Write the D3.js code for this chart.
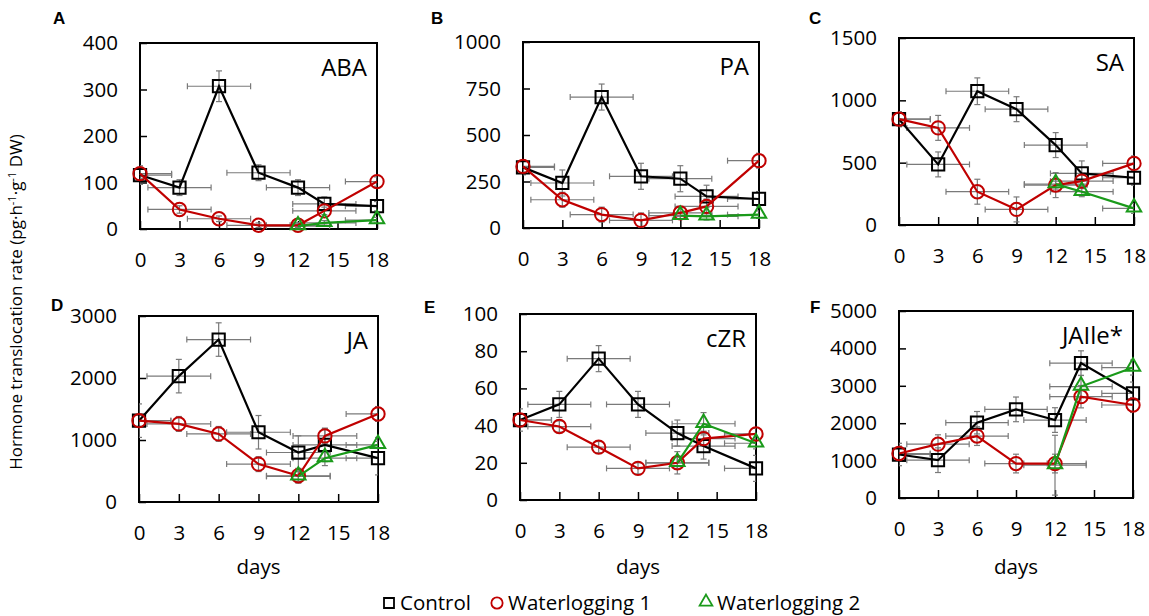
<!DOCTYPE html>
<html><head><meta charset="utf-8">
<script src="https://cdn.jsdelivr.net/npm/d3@7"></script>
<style>
html,body{margin:0;padding:0;background:#fff;}
svg{display:block;font-family:"Open Sans",Lato,sans-serif;}
</style></head>
<body><svg id="chart" width="1149" height="616"></svg>
<script>
// ---------- data ----------
const days = [0, 3, 6, 9, 12, 14, 18];
const daysWL2 = [12, 14, 18];
const xTicks = [0, 3, 6, 9, 12, 15, 18];
const seriesNames = ["Control", "Waterlogging 1", "Waterlogging 2"];
const panelLetters = ["A", "B", "C", "D", "E", "F"];
const hormones = ["ABA", "PA", "SA", "JA", "cZR", "JAIle*"];
const yMax = [400, 1000, 1500, 3000, 100, 5000];
const yTicks = [
  [0, 100, 200, 300, 400],
  [0, 250, 500, 750, 1000],
  [0, 500, 1000, 1500],
  [0, 1000, 2000, 3000],
  [0, 20, 40, 60, 80, 100],
  [0, 1000, 2000, 3000, 4000, 5000]
];
// mean values (Control, WL1 at all days; WL2 at days 12,14,18)
const controlVals = [
  [116, 89, 307, 121, 89, 54, 49],
  [326, 242, 704, 278, 265, 170, 156],
  [849, 486, 1073, 929, 641, 414, 379],
  [1312, 2030, 2620, 1125, 798, 921, 707],
  [43, 51.4, 76, 51.4, 36, 29, 17],
  [1163, 1011, 2013, 2370, 2084, 3605, 2800]
];
const wl1Vals = [
  [119, 42, 22, 8, 8, 39, 102],
  [331, 152, 72, 41, 81, 116, 362],
  [849, 779, 267, 125, 320, 352, 494],
  [1312, 1259, 1098, 611, 423, 1066, 1420],
  [43, 39.5, 28.4, 17, 20, 33, 35.5],
  [1190, 1440, 1655, 921, 921, 2710, 2487]
];
const wl2Vals = [
  [6, 13, 19],
  [66, 63, 72],
  [328, 267, 133],
  [412, 707, 921],
  [20, 41, 30.5],
  [877, 2979, 3488]
];
// vertical error (SE) values
const controlErr = [
  [20, 17, 33, 17, 17, 15, 10],
  [40, 70, 70, 70, 70, 60, 40],
  [60, 100, 107, 100, 100, 100, 60],
  [270, 270, 270, 270, 270, 270, 270],
  [6, 7, 7, 7, 7, 7, 7],
  [300, 330, 300, 330, 330, 330, 300]
];
const wl1Err = [
  [10, 8, 6, 5, 5, 8, 10],
  [30, 40, 40, 40, 30, 40, 40],
  [60, 100, 100, 100, 100, 60, 60],
  [100, 120, 120, 120, 120, 120, 120],
  [3, 3, 3, 3, 6, 4, 3],
  [200, 250, 250, 250, 250, 300, 200]
];
const wl2Err = [
  [4, 5, 6],
  [20, 20, 20],
  [40, 40, 40],
  [80, 120, 120],
  [3, 6, 3],
  [800, 300, 200]
];
// horizontal error (days)
const controlXErr = [2.4, 2.4, 2.4, 2.4, 2.4, 2.4, 2.4];
const wl1XErr = [2.4, 2.4, 2.4, 2.4, 2.4, 2.4, 2.4];
const wl2XErr = [2.4, 2.4, 2.4];

// ---------- layout ----------
const colors = ["#000000", "#c00000", "#1a9a1a"];
const boxes = [
  {l: 140, t: 43, r: 377, b: 229},
  {l: 523, t: 42, r: 759, b: 228},
  {l: 899, t: 38, r: 1134, b: 225},
  {l: 139, t: 316, r: 378, b: 502},
  {l: 520, t: 314, r: 756, b: 500},
  {l: 899, t: 311, r: 1133, b: 498}
];
const letterPos = [[53, 24], [431, 24], [809, 24], [51, 311], [424, 313], [810, 313]];

const svg = d3.select("#chart");
const fontSize = 20.5;
const fmt = d3.format("d");

const symSquare = d3.symbol().type(d3.symbolSquare).size(150);
const symCircle = d3.symbol().type(d3.symbolCircle).size(140);
const symTri = d3.symbol().type(d3.symbolTriangle).size(90);
const symbols = [symSquare, symCircle, symTri];

panelLetters.forEach((letter, i) => {
  const bx = boxes[i];
  const x = d3.scaleLinear().domain([0, 18]).range([bx.l, bx.r]);
  const y = d3.scaleLinear().domain([0, yMax[i]]).range([bx.b, bx.t]);
  const g = svg.append("g");

  const clipId = "clip" + i;
  svg.append("clipPath").attr("id", clipId).append("rect")
    .attr("x", bx.l).attr("y", bx.t).attr("width", bx.r - bx.l).attr("height", bx.b - bx.t);

  // y axis ticks inward
  const yAxis = d3.axisRight(y).tickValues(yTicks[i]).tickSize(7).tickFormat("");
  g.append("g").attr("transform", `translate(${bx.l},0)`).call(yAxis)
    .call(s => s.select(".domain").remove())
    .call(s => s.selectAll("line").attr("stroke", "#000").attr("stroke-width", 1.5));
  const yLab = d3.axisLeft(y).tickValues(yTicks[i]).tickSize(0).tickPadding(22).tickFormat(fmt);
  g.append("g").attr("transform", `translate(${bx.l},0)`).call(yLab)
    .call(s => s.select(".domain").remove())
    .call(s => s.selectAll("text").attr("font-size", fontSize).attr("font-family", "'Open Sans',sans-serif").attr("fill", "#000"));

  // x axis ticks inward
  const xAxis = d3.axisTop(x).tickValues(xTicks).tickSize(8).tickFormat("");
  g.append("g").attr("transform", `translate(0,${bx.b})`).call(xAxis)
    .call(s => s.select(".domain").remove())
    .call(s => s.selectAll("line").attr("stroke", "#000").attr("stroke-width", 1.5));
  const xLab = d3.axisBottom(x).tickValues(xTicks).tickSize(0).tickPadding(23).tickFormat(fmt);
  g.append("g").attr("transform", `translate(0,${bx.b})`).call(xLab)
    .call(s => s.select(".domain").remove())
    .call(s => s.selectAll("text").attr("font-size", fontSize).attr("font-family", "'Open Sans',sans-serif").attr("fill", "#000"));

  // box
  g.append("rect").attr("x", bx.l).attr("y", bx.t).attr("width", bx.r - bx.l).attr("height", bx.b - bx.t)
    .attr("fill", "none").attr("stroke", "#000").attr("stroke-width", 2);

  const series = [
    {xs: days, ys: controlVals[i], ye: controlErr[i], xe: controlXErr},
    {xs: days, ys: wl1Vals[i], ye: wl1Err[i], xe: wl1XErr},
    {xs: daysWL2, ys: wl2Vals[i], ye: wl2Err[i], xe: wl2XErr}
  ];
  // error bars
  const eg = g.append("g").attr("clip-path", `url(#${clipId})`)
    .attr("stroke", "#7a7a7a").attr("stroke-width", 1.2).attr("fill", "none");
  series.forEach(s => {
    s.xs.forEach((d, k) => {
      const cx = x(d), cy = y(s.ys[k]);
      const y1 = y(s.ys[k] + s.ye[k]), y2 = y(s.ys[k] - s.ye[k]);
      const x1 = x(d - s.xe[k]), x2 = x(d + s.xe[k]);
      eg.append("line").attr("x1", cx).attr("x2", cx).attr("y1", y1).attr("y2", y2);
      eg.append("line").attr("x1", cx - 3).attr("x2", cx + 3).attr("y1", y1).attr("y2", y1);
      eg.append("line").attr("x1", cx - 3).attr("x2", cx + 3).attr("y1", y2).attr("y2", y2);
      eg.append("line").attr("x1", x1).attr("x2", x2).attr("y1", cy).attr("y2", cy);
      eg.append("line").attr("x1", x1).attr("x2", x1).attr("y1", cy - 3).attr("y2", cy + 3);
      eg.append("line").attr("x1", x2).attr("x2", x2).attr("y1", cy - 3).attr("y2", cy + 3);
    });
  });
  // lines & markers
  series.forEach((s, si) => {
    const pts = s.xs.map((d, k) => [x(d), y(s.ys[k])]);
    g.append("path").attr("d", d3.line()(pts)).attr("fill", "none")
      .attr("stroke", colors[si]).attr("stroke-width", 2.2);
    g.selectAll(null).data(pts).join("path")
      .attr("transform", p => `translate(${p[0]},${p[1] + (si === 2 ? -1 : 0)})`)
      .attr("d", symbols[si]())
      .attr("fill", "none").attr("stroke", colors[si]).attr("stroke-width", 2);
  });

  // hormone title
  g.append("text").attr("x", bx.r - 10).attr("y", bx.t + 33).attr("text-anchor", "end")
    .attr("font-size", 24).attr("fill", "#000").text(hormones[i]);
  // panel letter
  g.append("text").attr("x", letterPos[i][0]).attr("y", letterPos[i][1])
    .attr("font-size", 17).attr("font-weight", "bold").attr("font-family", "'Liberation Sans',Arial,sans-serif")
    .attr("fill", "#000").text(letter);
  if (i >= 3) {
    g.append("text").attr("x", (bx.l + bx.r) / 2).attr("y", 574).attr("text-anchor", "middle")
      .attr("font-size", fontSize).attr("fill", "#000").text("days");
  }
});

// y axis label
const yl = svg.append("text").attr("transform", "translate(22,302) rotate(-90)")
  .attr("text-anchor", "middle").attr("font-size", 17).attr("fill", "#000");
yl.append("tspan").text("Hormone translocation rate (pg·h");
yl.append("tspan").attr("dy", -6).attr("font-size", 11).text("-1");
yl.append("tspan").attr("dy", 6).text("·g");
yl.append("tspan").attr("dy", -6).attr("font-size", 11).text("-1");
yl.append("tspan").attr("dy", 6).text(" DW)");

// legend
const legX = [389, 497, 706];
const lg = svg.append("g");
seriesNames.forEach((n, si) => {
  lg.append("path").attr("transform", `translate(${legX[si]},${603 + (si === 2 ? -1 : 0)})`)
    .attr("d", d3.symbol().type([d3.symbolSquare, d3.symbolCircle, d3.symbolTriangle][si]).size(si === 2 ? 70 : 100)())
    .attr("fill", "none").attr("stroke", colors[si]).attr("stroke-width", 1.8);
  lg.append("text").attr("x", legX[si] + 11).attr("y", 610).attr("font-size", 20.5).attr("fill", "#000").text(n);
});
</script></body></html>
